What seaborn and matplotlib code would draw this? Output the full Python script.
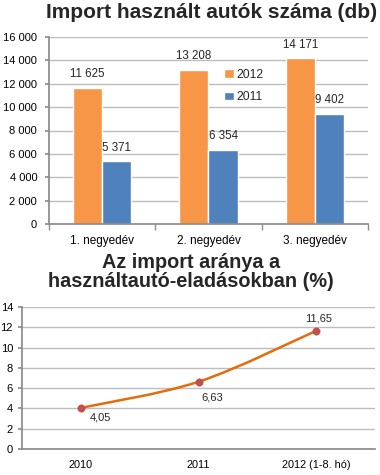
import matplotlib
matplotlib.use("Agg")
import matplotlib.pyplot as plt
from matplotlib.path import Path
from matplotlib.patches import PathPatch
from matplotlib.ticker import FuncFormatter, FixedLocator
import seaborn as sns
import pandas as pd
import numpy as np

# ---- data ----
quarters = ["1. negyedév", "2. negyedév", "3. negyedév"]
series_names = ["2012", "2011"]
values_2012 = [11625, 13208, 14171]
values_2011 = [5371, 6354, 9402]

years = ["2010", "2011", "2012 (1-8. hó)"]
share = [4.05, 6.63, 11.65]
share_labels = ["4,05", "6,63", "11,65"]

title_top = "Import használt autók száma (db)"
title_bottom = "Az import aránya a\nhasználtautó-eladásokban (%)"

sns.set_theme(style="white")
plt.rcParams["font.family"] = ["Liberation Sans", "DejaVu Sans"]

W, H = 380, 475
fig = plt.figure(figsize=(W / 100, H / 100), dpi=100)

def box(x0, y0, x1, y1):
    return [x0 / W, 1 - y1 / H, (x1 - x0) / W, (y1 - y0) / H]

ORANGE = "#F79646"
BLUE = "#4F81BD"
GRID = "#BDBDBD"
AXIS = "#8C8C8C"

# ---- top bar chart ----
df = pd.DataFrame({
    "quarter": quarters * 2,
    "year": [series_names[0]] * 3 + [series_names[1]] * 3,
    "value": values_2012 + values_2011,
})
ax1 = fig.add_axes(box(49, 37, 368, 224))
sns.barplot(data=df, x="quarter", y="value", hue="year", hue_order=series_names,
            palette=[ORANGE, BLUE], width=0.55, saturation=1, ax=ax1, legend=True)
ax1.set_ylim(0, 16000)
ax1.set_xlim(-0.5, 2.5)
ax1.set_yticks(np.arange(0, 16001, 2000))
ax1.yaxis.set_major_formatter(FuncFormatter(lambda v, p: f"{int(v):,}".replace(",", " ")))
ax1.set_xlabel("")
ax1.set_ylabel("")
ax1.grid(axis="y", color=GRID, linewidth=1)
ax1.set_axisbelow(True)
for s in ["top", "right"]:
    ax1.spines[s].set_visible(False)
ax1.spines["left"].set_color(AXIS)
ax1.spines["bottom"].set_color(AXIS)
ax1.tick_params(axis="y", labelsize=8, length=3, color=AXIS, left=True, pad=5.5, labelcolor="black")
ax1.tick_params(axis="x", labelsize=8.5, length=0, pad=8, labelcolor="black")
ax1.xaxis.set_minor_locator(FixedLocator([-0.5, 0.5, 1.5, 2.5]))
ax1.tick_params(axis="x", which="minor", length=4, color=AXIS, bottom=True)
for cont in ax1.containers:
    ax1.bar_label(cont, labels=[f"{int(v):,}".replace(",", " ") for v in cont.datavalues],
                  padding=5.5, fontsize=8.3)
handles, labels = ax1.get_legend_handles_labels()
ax1.legend(handles, labels, loc="upper left", bbox_to_anchor=(0.535, 0.855), frameon=False,
           fontsize=8.7, handlelength=0.75, handleheight=0.75, handletextpad=0.2,
           labelspacing=0.85, borderaxespad=0)
fig.text(212 / W, 1 - 13 / H, title_top, ha="center", va="center",
         fontsize=15, fontweight="bold")

# ---- bottom line chart ----
ax2 = fig.add_axes(box(22, 307, 375, 449))
xs = np.arange(len(share), dtype=float)
ys = np.array(share)
# Smooth (Catmull-Rom style) path through the data points
verts = [(xs[0], ys[0])]
codes = [Path.MOVETO]
n = len(xs)
for i in range(n - 1):
    p0 = np.array([xs[max(i - 1, 0)], ys[max(i - 1, 0)]])
    p1 = np.array([xs[i], ys[i]])
    p2 = np.array([xs[i + 1], ys[i + 1]])
    p3 = np.array([xs[min(i + 2, n - 1)], ys[min(i + 2, n - 1)]])
    c1 = p1 + (p2 - p0) / 6
    c2 = p2 - (p3 - p1) / 6
    verts += [tuple(c1), tuple(c2), tuple(p2)]
    codes += [Path.CURVE4] * 3
ax2.add_patch(PathPatch(Path(verts, codes), facecolor="none", edgecolor="#E46C0A",
                        linewidth=1.8, zorder=3))
sns.scatterplot(x=xs, y=ys, color="#C0504D", s=28, edgecolor="#C0504D", zorder=4, ax=ax2)
ax2.set_xlim(-0.5, 2.5)
ax2.set_ylim(0, 14)
ax2.set_yticks(np.arange(0, 15, 2))
ax2.set_xticks(xs)
ax2.set_xticklabels(years)
ax2.grid(axis="y", color=GRID, linewidth=1)
ax2.set_axisbelow(True)
for s in ["top", "right"]:
    ax2.spines[s].set_visible(False)
ax2.spines["left"].set_color(AXIS)
ax2.spines["bottom"].set_color(AXIS)
ax2.tick_params(axis="y", labelsize=8, length=3, color=AXIS, left=True, pad=3.5, labelcolor="black")
ax2.tick_params(axis="x", labelsize=7.8, length=0, pad=8, labelcolor="black")
offsets = [(14, -7), (10, -11), (2, 9)]
for x, y, lab, off in zip(xs, ys, share_labels, offsets):
    ax2.annotate(lab, (x, y), xytext=off, textcoords="offset points",
                 ha="center", va="center", fontsize=8)
fig.text(191 / W, 1 - 272 / H, title_bottom, ha="center", va="center",
         fontsize=14.3, fontweight="bold", linespacing=1.05)

fig.savefig("out.png", dpi=100)
